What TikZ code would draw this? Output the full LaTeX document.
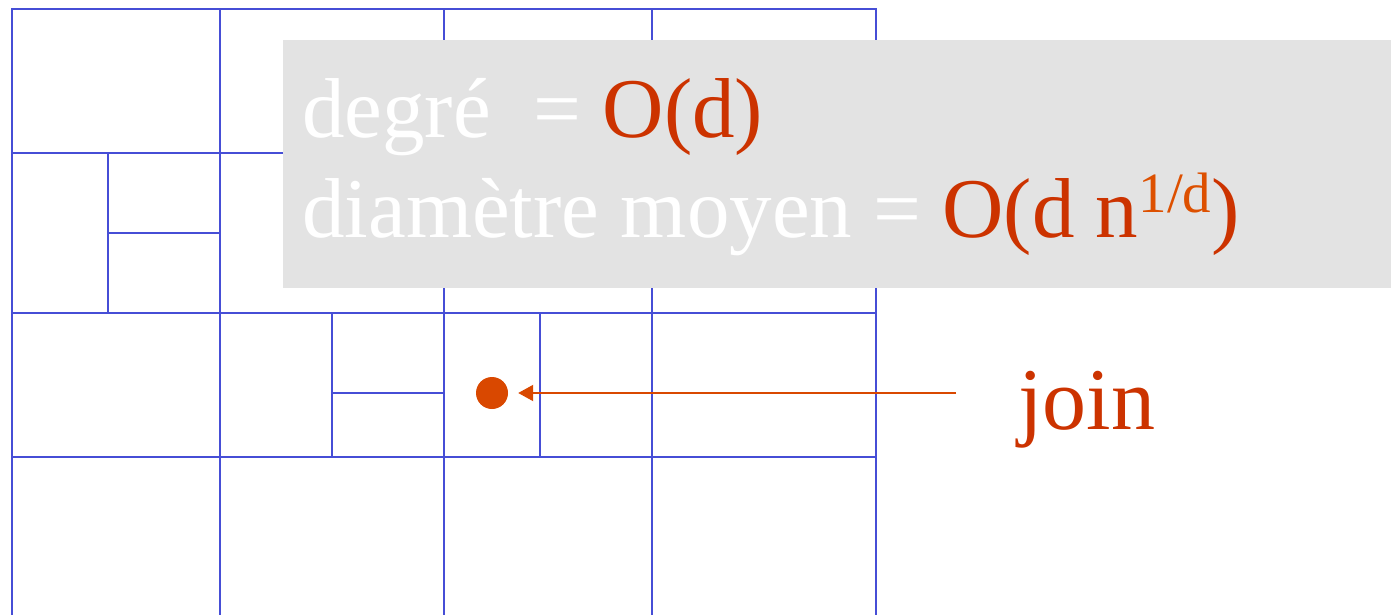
\documentclass[tikz,border=0pt]{standalone}
\usepackage{fontspec}
\setmainfont{Liberation Serif}
\usetikzlibrary{arrows.meta}
\definecolor{gridblue}{RGB}{70,78,214}
\definecolor{txtred}{RGB}{204,51,0}
\definecolor{suporange}{RGB}{221,80,0}
\definecolor{dotorange}{RGB}{217,72,0}
\definecolor{boxgray}{RGB}{227,227,227}
\newcommand\mybigfont{\fontsize{85}{100}\selectfont}
\newcommand\mysupfont{\fontsize{57}{57}\selectfont}
\begin{document}
\begin{tikzpicture}[x=1pt,y=-1pt,
  gridline/.style={draw=gridblue,line width=2pt,line cap=rect},
  txt/.style={anchor=base west,inner sep=0pt,font=\mybigfont},
  dotnode/.style={circle,fill=dotorange,minimum size=32pt,inner sep=0pt},
  arr/.style={draw=dotorange,line width=2pt,-{Triangle[length=15pt,width=16pt]},shorten >=10pt}]
\useasboundingbox (0,0) rectangle (1391,615);
\begin{scope}
\clip (0,0) rectangle (1391,615);
\foreach \x in {12,220,444,652,876} \draw[gridline] (\x,9) -- (\x,625);
\foreach \y in {9,153,313,457} \draw[gridline] (12,\y) -- (876,\y);
\draw[gridline] (108,153) -- (108,313);
\draw[gridline] (108,233) -- (220,233);
\draw[gridline] (332,313) -- (332,457);
\draw[gridline] (332,393) -- (444,393);
\draw[gridline] (540,313) -- (540,457);
\end{scope}
\node[fill=boxgray,minimum width=1108pt,minimum height=248pt,inner sep=0pt,anchor=north west] (box) at (283,40) {};
\node[txt] (l1) at (302,137) {\textcolor{white}{degré\ \ = }\textcolor{txtred}{O(d)}};
\node[txt] (l2) at (302,237) {\textcolor{white}{diamètre moyen = }\textcolor{txtred}{O(d n}\raisebox{25pt}{\mysupfont\textcolor{suporange}{1/d}}\textcolor{txtred}{)}};
\node[dotnode] (dot) at (492,393) {};
\coordinate (src) at (956,393);
\draw[arr] (src) -- (dot);
\node[anchor=base west,inner sep=0pt,text=txtred,font=\fontsize{88}{88}\selectfont] (join) at (1018,429) {join};
\end{tikzpicture}
\end{document}
